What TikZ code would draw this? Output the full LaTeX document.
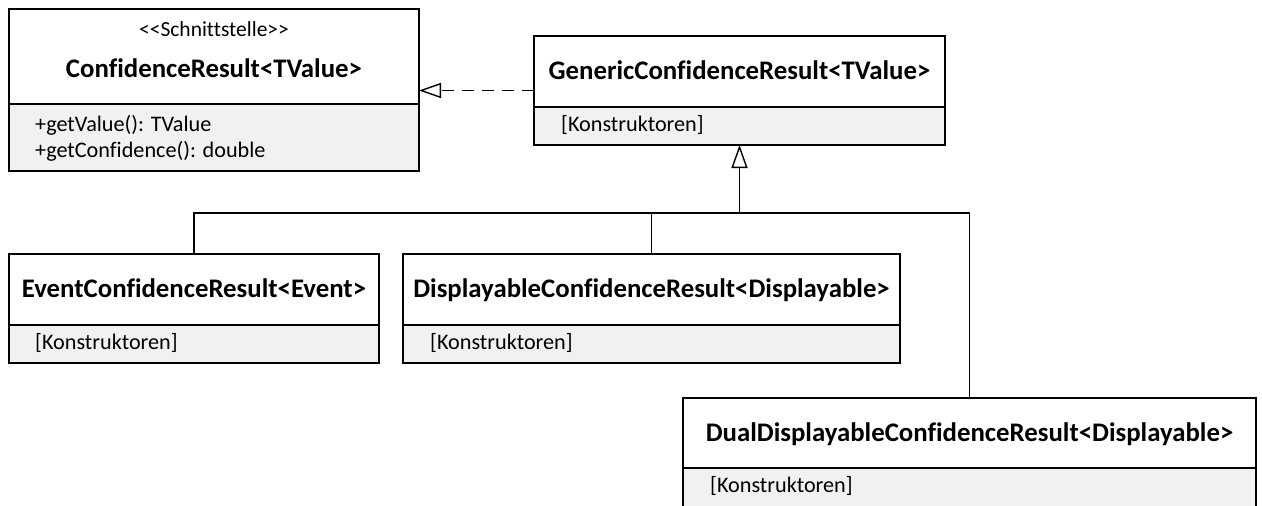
\documentclass[tikz,border=0pt]{standalone}
\usepackage{fontspec}
\setmainfont{Carlito}[Ligatures=NoCommon]
\usetikzlibrary{arrows.meta}
\definecolor{compgray}{HTML}{F1F1F1}
\begin{document}
\begin{tikzpicture}[x=1pt,y=-1pt,
  box/.style={draw=none, fill=white, inner sep=0pt, outer sep=0pt, anchor=north west},
  ln/.style={draw=black, line width=1.4pt},
  ttl/.style={font=\fontsize{26.8}{27}\selectfont\bfseries, anchor=base, inner sep=0pt},
  txt/.style={font=\fontsize{22.2}{22}\selectfont, anchor=base west, inner sep=0pt},
  ster/.style={font=\fontsize{21.5}{21.5}\selectfont, anchor=base, inner sep=0pt},
  real/.style={ln, dash pattern=on 12pt off 8pt, -{Triangle[open,length=22pt,width=15pt]}},
  gen/.style={ln, -{Triangle[open,length=23pt,width=16pt]}}
]
\useasboundingbox (0,0) rectangle (1262,506);
\clip (0,0) rectangle (1262,506);

% class boxes
\node[box, minimum width=410pt, minimum height=162pt] (A) at (9,9) {};
\node[box, minimum width=411pt, minimum height=109pt] (B) at (534,36) {};
\node[box, minimum width=370pt, minimum height=109pt] (C) at (9,254) {};
\node[box, minimum width=497pt, minimum height=109pt] (D) at (403,254) {};
\node[box, minimum width=573pt, minimum height=122pt] (E) at (683,398) {};

% compartments
\fill[compgray] (A.west |- 0,104) rectangle (A.south east);
\fill[compgray] (B.west |- 0,107) rectangle (B.south east);
\fill[compgray] (C.west |- 0,325) rectangle (C.south east);
\fill[compgray] (D.west |- 0,325) rectangle (D.south east);
\fill[compgray] (E.west |- 0,468) rectangle (E.south east);

\draw[ln] (A.west |- 0,104) -- (A.east |- 0,104);
\draw[ln] (B.west |- 0,107) -- (B.east |- 0,107);
\draw[ln] (C.west |- 0,325) -- (C.east |- 0,325);
\draw[ln] (D.west |- 0,325) -- (D.east |- 0,325);
\draw[ln] (E.west |- 0,468) -- (E.east |- 0,468);

\draw[ln] (A.north west) rectangle (A.south east);
\draw[ln] (B.north west) rectangle (B.south east);
\draw[ln] (C.north west) rectangle (C.south east);
\draw[ln] (D.north west) rectangle (D.south east);
\draw[ln] (E.north west) rectangle (E.south east);

% texts
\node[ster] (Ast) at (A.north |- 0,36) {<{}<Schnittstelle>{}>};
\node[ttl] (At) at (A.north |- 0,77) {ConfidenceResult<TValue>};
\node[txt] (Am1) at (35,131) {+getValue(): TValue};
\node[txt] (Am2) at (35,157) {+getConfidence(): double};

\node[ttl] (Bt) at (B.north |- 0,79) {GenericConfidenceResult<TValue>};
\node[txt] (Bk) at (561,131) {[Konstruktoren]};

\node[ttl] (Ct) at (C.north |- 0,297) {EventConfidenceResult<Event>};
\node[txt] (Ck) at (35,349) {[Konstruktoren]};

\node[ttl] (Dt) at (D.north |- 0,297) {DisplayableConfidenceResult<Displayable>};
\node[txt] (Dk) at (430,349) {[Konstruktoren]};

\node[ttl] (Et) at (E.north |- 0,441) {DualDisplayableConfidenceResult<Displayable>};
\node[txt] (Ek) at (710,492) {[Konstruktoren]};

% connectors
\draw[real] (B.west) -- (B.west -| A.east);
\coordinate (J) at (B.south |- 0,213);
\draw[ln] (C.north) |- (J);
\draw[ln] (D.north) |- (J);
\draw[ln] (E.north) |- (J);
\draw[gen] (J) -- (B.south);
\end{tikzpicture}
\end{document}
